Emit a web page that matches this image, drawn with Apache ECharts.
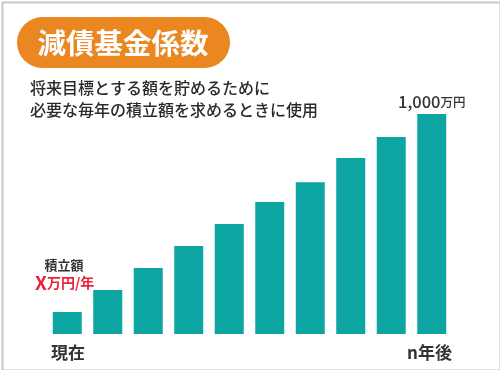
<!DOCTYPE html>
<html><head><meta charset="utf-8">
<script src="https://cdn.jsdelivr.net/npm/echarts@6/dist/echarts.min.js"></script>
<style>html,body{margin:0;padding:0;background:#fff}#c{width:500px;height:370px}</style>
</head><body><div id="c"></div>
<script>
const categories = ['1','2','3','4','5','6','7','8','9','10'];
const values = [100, 200, 300, 400, 500, 600, 690, 800, 895, 1000];
const titleText = '減債基金係数';
const subtitleLines = ['将来目標とする額を貯めるために', '必要な毎年の積立額を求めるときに使用'];
const startLabel = '現在';
const endLabel = 'n年後';
const topLabel = ['1,000', '万円'];
const depositLabel = ['積立額', 'X', '万円/年'];

const FONT = '"Noto Sans CJK JP","Noto Sans",sans-serif';
const chart = echarts.init(document.getElementById('c'), null, {renderer:'canvas'});
chart.setOption({
  animation: false,
  backgroundColor: '#fff',
  grid: {left: 47, right: 48, top: 114, bottom: 36},
  xAxis: {type: 'category', data: categories, show: false},
  yAxis: {type: 'value', min: 0, max: 1000, show: false},
  series: [{
    type: 'bar', data: values, barWidth: 29,
    itemStyle: {color: '#0CA5A2'},
    label: {
      show: true, position: 'top', distance: 4,
      formatter: p => p.dataIndex === values.length - 1 ? '{a|' + topLabel[0] + '}{b|' + topLabel[1] + '}' : '',
      rich: {
        a: {fontSize: 16.5, fontWeight: 500, color: '#333', fontFamily: FONT},
        b: {fontSize: 12.5, fontWeight: 500, color: '#333', fontFamily: FONT}
      }
    }
  }],
  graphic: [
    {type: 'rect', left: 0, top: 0, shape: {x: 1, y: 1, width: 498, height: 368}, style: {fill: 'none', stroke: '#c8c8c8', lineWidth: 2}, silent: true},
    {type: 'rect', shape: {x: 17, y: 17, width: 213, height: 51, r: 25.5}, style: {fill: '#EA8721'}},
    {type: 'text', x: 123, y: 43, style: {text: titleText, fill: '#fff', font: 'bold 28.5px ' + FONT, textAlign: 'center', textVerticalAlign: 'middle'}},
    {type: 'text', x: 30, y: 88, style: {text: subtitleLines[0], fill: '#2a2a2a', font: '500 16px ' + FONT, textVerticalAlign: 'middle'}},
    {type: 'text', x: 30, y: 110, style: {text: subtitleLines[1], fill: '#2a2a2a', font: '500 16px ' + FONT, textVerticalAlign: 'middle'}},
    {type: 'text', x: 64, y: 265, style: {text: depositLabel[0], fill: '#333', font: 'bold 13px ' + FONT, textAlign: 'center', textVerticalAlign: 'middle'}},
    {type: 'text', x: 35, y: 283, style: {
      text: '{x|' + depositLabel[1] + '}{y|' + depositLabel[2] + '}', textVerticalAlign: 'middle',
      rich: {x: {fontSize: 19, fontWeight: 'bold', fill: '#E8233A', fontFamily: FONT}, y: {fontSize: 14, fontWeight: 'bold', fill: '#E8233A', fontFamily: FONT}}
    }},
    {type: 'text', x: 51, y: 353, style: {text: startLabel, fill: '#333', font: 'bold 17px ' + FONT, textVerticalAlign: 'middle'}},
    {type: 'text', x: 407, y: 353, style: {text: endLabel, fill: '#333', font: 'bold 17px ' + FONT, textVerticalAlign: 'middle'}}
  ]
});
</script></body></html>
